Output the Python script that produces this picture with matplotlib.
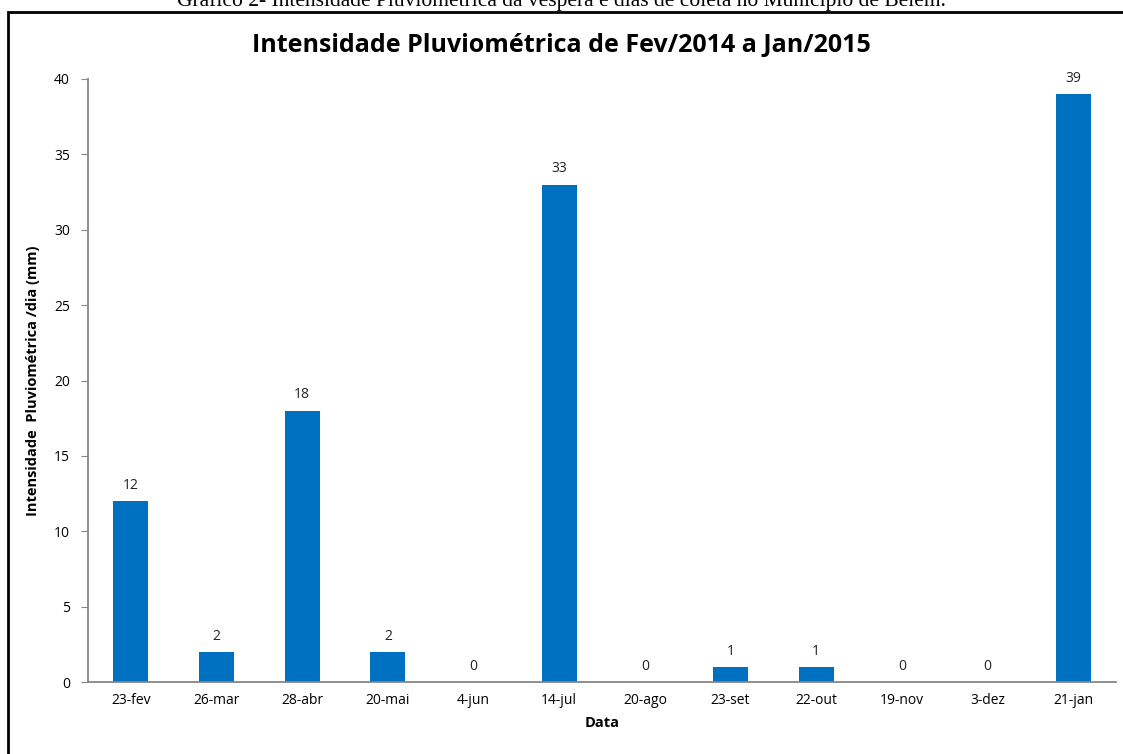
import matplotlib
matplotlib.use("Agg")
import matplotlib.pyplot as plt
from matplotlib.patches import Rectangle

# data
datas = ["23-fev", "26-mar", "28-abr", "20-mai", "4-jun", "14-jul",
         "20-ago", "23-set", "22-out", "19-nov", "3-dez", "21-jan"]
chuva = [12, 2, 18, 2, 0, 33, 0, 1, 1, 0, 0, 39]
y_ticks = [0, 5, 10, 15, 20, 25, 30, 35, 40]

fig = plt.figure(figsize=(11.23, 7.54), dpi=100)
ax = fig.add_axes([88 / 1123, 1 - 682 / 754, (1116 - 88) / 1123, (682 - 79) / 754])

x = list(range(len(datas)))
bars = ax.bar(x, chuva, width=0.41, color="#0070C0")
for xi, v in zip(x, chuva):
    ax.annotate(str(v), (xi, v), xytext=(0, 6), textcoords="offset points",
                ha="center", va="bottom", fontsize=10, family="Open Sans", color="#222222")

ax.set_xlim(-0.5, len(datas) - 0.5)
ax.set_ylim(0, 40)
ax.set_yticks(y_ticks)
ax.set_xticks(x)
ax.set_xticklabels(datas, family="Open Sans", fontsize=10)
for lbl in ax.get_yticklabels():
    lbl.set_family("Open Sans")
    lbl.set_fontsize(10)
ax.tick_params(axis="x", length=0, pad=8)
ax.tick_params(axis="y", length=5, color="#868686", pad=8)

for s in ["top", "right"]:
    ax.spines[s].set_visible(False)
ax.spines["left"].set_color("#868686")
ax.spines["bottom"].set_color("#868686")
ax.spines["left"].set_linewidth(1.3)
ax.spines["bottom"].set_linewidth(1.3)

ax.set_xlabel("Data", fontsize=10.5, fontweight="bold", family="Open Sans", labelpad=6)
ax.set_ylabel("Intensidade  Pluviométrica /dia (mm)", fontsize=10.5, fontweight="bold",
              family="Open Sans", labelpad=10)

fig.text(0.5, 1 - 45 / 754, "Intensidade Pluviométrica de Fev/2014 a Jan/2015",
         ha="center", va="center", fontsize=18, fontweight="bold", family="Open Sans")

# caption of the document, cut off at the top of the image
fig.text(0.5, 1 - 1 / 754,
         "Gráfico 2- Intensidade Pluviométrica da véspera e dias de coleta no Município de Belém.",
         ha="center", va="center", fontsize=15.5, family="Liberation Serif")

# outer frame of the chart area
fig.patches.append(Rectangle((8 / 1123, -0.05), 1.1, 1 - 12 / 754 + 0.05,
                             transform=fig.transFigure, fill=False,
                             edgecolor="black", linewidth=2))

fig.savefig("out.png", dpi=100)
